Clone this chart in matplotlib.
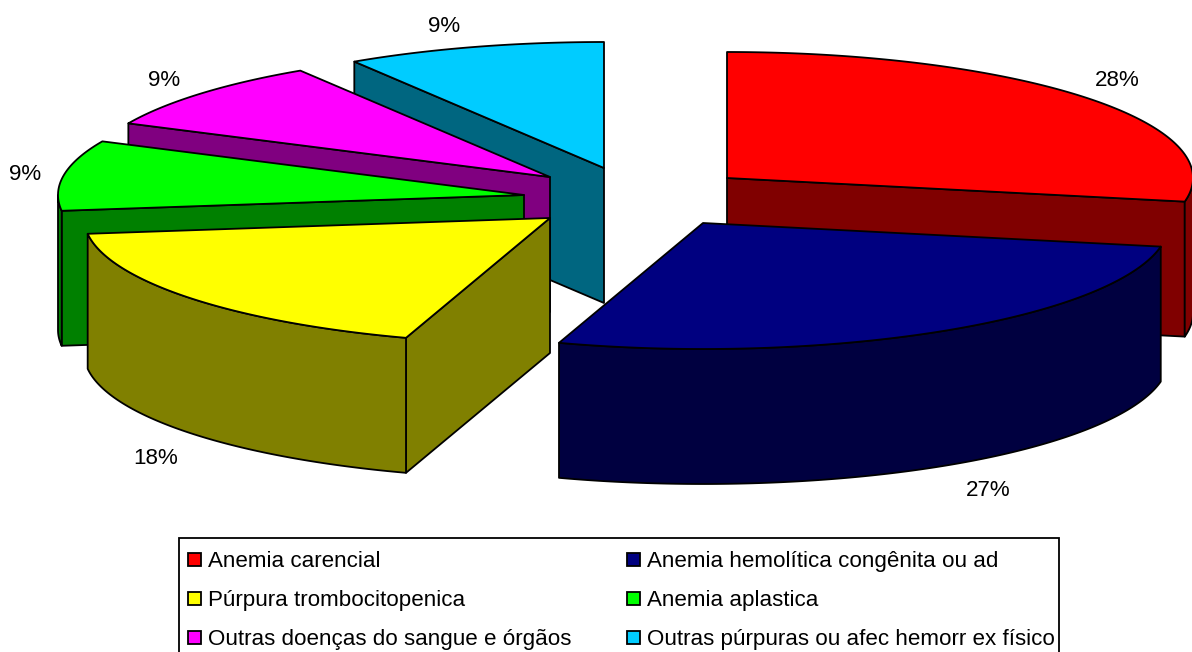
import numpy as np
import matplotlib
matplotlib.use("Agg")
import matplotlib.pyplot as plt
from matplotlib.patches import Polygon, Rectangle

plt.rcParams["font.family"] = ["Liberation Sans", "DejaVu Sans"]

categories = [
    "Anemia carencial",
    "Anemia hemolítica congênita ou ad",
    "Púrpura trombocitopenica",
    "Anemia aplastica",
    "Outras doenças do sangue e órgãos",
    "Outras púrpuras ou afec hemorr ex físico",
]
percent = [28, 27, 18, 9, 9, 9]

top_colors = ["#FF0000", "#000080", "#FFFF00", "#00FF00", "#FF00FF", "#00CCFF"]
side_colors = ["#800000", "#000040", "#808000", "#008000", "#800080", "#006680"]

# where each exploded slice has its point, in pixels
apex_x = [727, 703, 550, 524, 550, 604]
apex_y = [178, 223, 218, 195, 177, 168]
label_x = [1117, 988, 156, 25, 164, 444]
label_y = [80, 491, 459, 175, 80, 27]

RX = 466
RY = 126
DEPTH = 135
EDGE = 1.3

# back slices first so the front ones cover them
draw_order = [5, 4, 3, 0, 2, 1]

# legend grid
legend_cols = [188, 627]
legend_rows = [559, 598, 637]
SWATCH = 13


def rim(cx, cy, t0, t1, drop=0):
    t = np.radians(np.linspace(t0, t1, max(int(abs(t1 - t0)) * 2, 2)))
    return np.column_stack([cx + RX * np.sin(t), cy - RY * np.cos(t) + drop])


def add_poly(ax, pts, color):
    ax.add_patch(Polygon(pts, closed=True, facecolor=color, edgecolor="black",
                         linewidth=EDGE, joinstyle="round"))


def draw_slice(ax, i, t0, t1):
    cx, cy = apex_x[i], apex_y[i]
    side = side_colors[i]

    # flat cut faces, only those turned towards the viewer
    for t, visible in [(t0, t0 >= 180), (t1, t1 <= 180)]:
        if visible:
            end = rim(cx, cy, t, t + 1e-6)[0]
            add_poly(ax, [(cx, cy), end, end + (0, DEPTH), (cx, cy + DEPTH)], side)

    # curved outer wall on the front half
    a, b = max(t0, 90), min(t1, 270)
    if a < b:
        add_poly(ax, np.vstack([rim(cx, cy, a, b), rim(cx, cy, b, a, DEPTH)]), side)

    add_poly(ax, np.vstack([[(cx, cy)], rim(cx, cy, t0, t1)]), top_colors[i])


fig = plt.figure(figsize=(11.92, 6.52), dpi=100)
ax = fig.add_axes([0, 0, 1, 1])
ax.set_xlim(0, 1192)
ax.set_ylim(652, 0)
ax.axis("off")

edges = np.concatenate([[0], np.cumsum(percent)]) * 3.6
for i in draw_order:
    draw_slice(ax, i, edges[i], edges[i + 1])

for i, p in enumerate(percent):
    ax.text(label_x[i], label_y[i], f"{p}%", fontsize=16.1, ha="center", va="center")

# legend box runs off the bottom of the figure
ax.add_patch(Rectangle((179, 538), 880, 130, facecolor="white", edgecolor="black", linewidth=1.3))
for i, name in enumerate(categories):
    x = legend_cols[i % 2]
    y = legend_rows[i // 2]
    ax.add_patch(Rectangle((x, y - SWATCH / 2), SWATCH, SWATCH, facecolor=top_colors[i],
                           edgecolor="black", linewidth=1.3))
    ax.text(x + 20, y, name, fontsize=16.1, ha="left", va="center_baseline")

plt.savefig("out.png", dpi=100)
